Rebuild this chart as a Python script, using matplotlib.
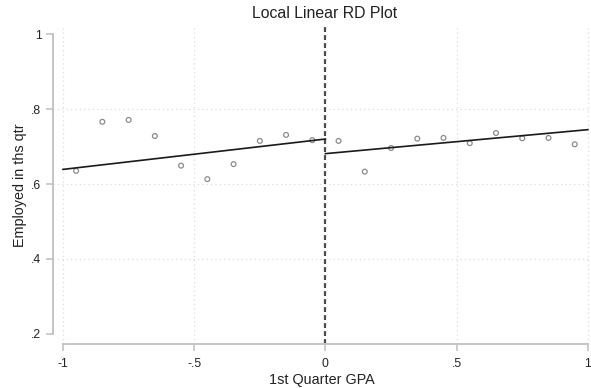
import matplotlib
matplotlib.use("Agg")
import matplotlib.pyplot as plt

plt.rcParams["font.family"] = ["Liberation Sans", "DejaVu Sans"]

# binned means of employment by 1st quarter GPA (distance from cutoff)
bins_left = [-0.95, -0.85, -0.75, -0.65, -0.55, -0.45, -0.35, -0.25, -0.15, -0.05]
means_left = [0.635, 0.766, 0.771, 0.728, 0.649, 0.613, 0.653, 0.715, 0.731, 0.717]
bins_right = [0.05, 0.15, 0.25, 0.35, 0.45, 0.55, 0.65, 0.75, 0.85, 0.95]
means_right = [0.715, 0.633, 0.696, 0.721, 0.723, 0.709, 0.736, 0.722, 0.723, 0.706]

# local linear fit on each side of the cutoff
fit_left_x = [-1.0, 0.0]
fit_left_y = [0.639, 0.720]
fit_right_x = [0.0, 1.0]
fit_right_y = [0.681, 0.745]

xticks = [-1, -0.5, 0, 0.5, 1]
xticklabels = ["-1", "-.5", "0", ".5", "1"]
yticks = [0.2, 0.4, 0.6, 0.8, 1.0]
yticklabels = [".2", ".4", ".6", ".8", "1"]

W, H = 591, 388
fig = plt.figure(figsize=(W / 100, H / 100), dpi=100)
ax = fig.add_axes([52.5 / W, (H - 344) / H, (591 - 52.5) / W, (344 - 27) / H])

ax.set_xlim(-1.04, 1.012)
ax.set_ylim(0.173, 1.019)

# dotted grid, Stata style
for gx in [-1, -0.5, 0.5, 1]:
    ax.axvline(gx, color="#dcdcdc", lw=0.9, ls=(0, (1, 2.5)), zorder=0)
for gy in [0.4, 0.6, 0.8]:
    ax.axhline(gy, color="#dcdcdc", lw=0.9, ls=(0, (1, 2.5)), zorder=0)

ax.axvline(0, color="#4a4a4a", lw=1.6, ls=(0, (2.2, 1.4)), zorder=1)

ax.scatter(bins_left, means_left, s=12, facecolors="none", edgecolors="#8c8c8c", linewidths=0.9, zorder=3)
ax.scatter(bins_right, means_right, s=12, facecolors="none", edgecolors="#8c8c8c", linewidths=0.9, zorder=3)
ax.plot(fit_left_x, fit_left_y, color="#1a1a1a", lw=1.2, zorder=4)
ax.plot(fit_right_x, fit_right_y, color="#1a1a1a", lw=1.2, zorder=4)

for side in ["top", "right"]:
    ax.spines[side].set_visible(False)
for side in ["left", "bottom"]:
    ax.spines[side].set_color("#c4c4c4")
    ax.spines[side].set_linewidth(1.4)
ax.spines["left"].set_bounds(0.2, 1.0)
ax.spines["bottom"].set_bounds(-1, 1)

ax.set_xticks(xticks)
ax.set_xticklabels(xticklabels)
ax.set_yticks(yticks)
ax.set_yticklabels(yticklabels)
ax.tick_params(axis="both", colors="#c4c4c4", length=5, width=1.2, labelsize=8.8, labelcolor="#222222")
ax.tick_params(axis="x", pad=5)
ax.tick_params(axis="y", pad=3)

ax.set_xlabel("1st Quarter GPA", fontsize=10.4, color="#222222", labelpad=2)
ax.set_ylabel("Employed in ths qtr", fontsize=10.4, color="#222222", labelpad=3)
fig.text(325 / W, 1 - 13 / H, "Local Linear RD Plot", ha="center", va="center", fontsize=11.4, color="#222222")

fig.savefig("out.png", dpi=100)
